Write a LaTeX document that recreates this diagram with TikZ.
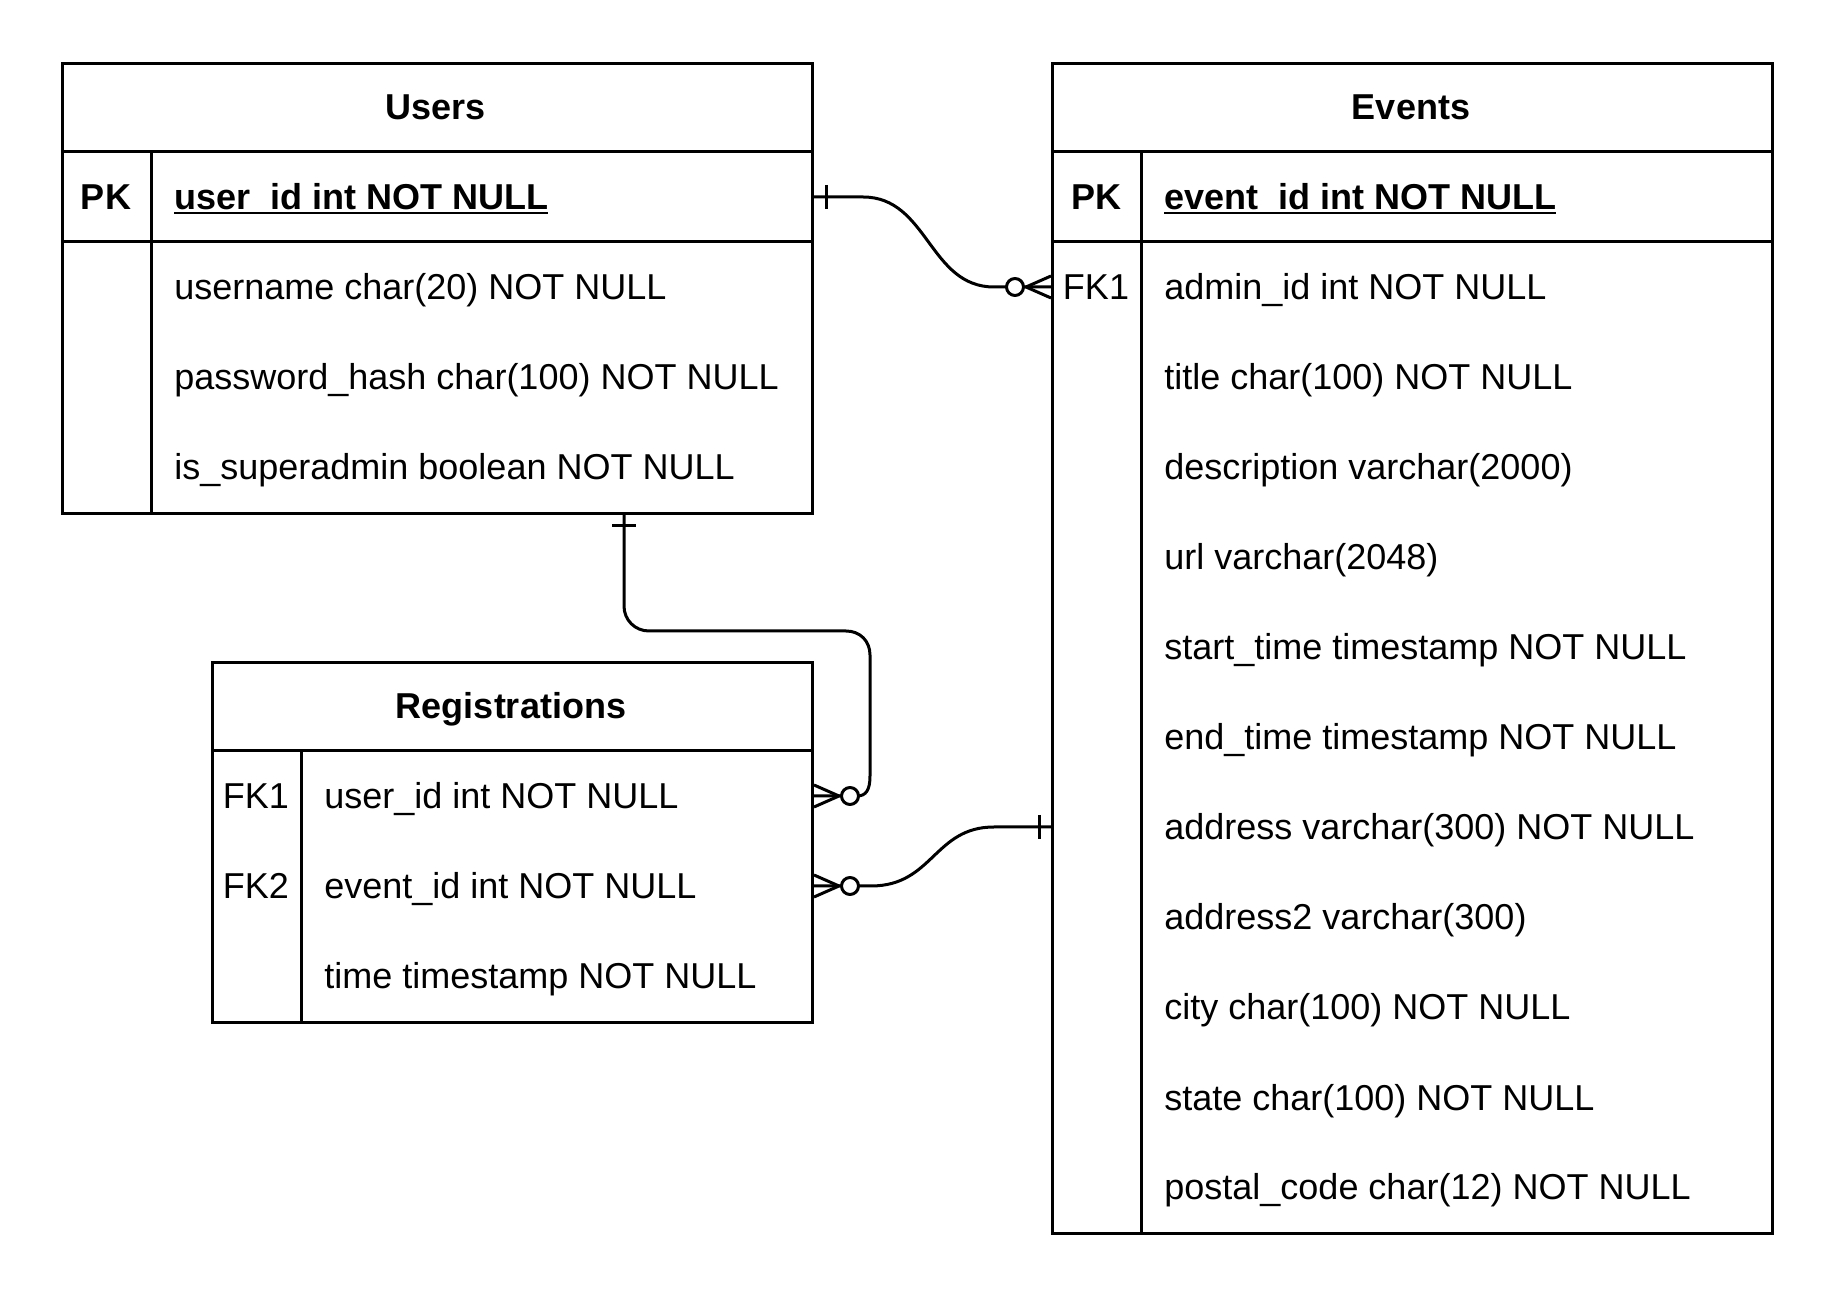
\documentclass[tikz,border=0pt]{standalone}
\usepackage{fontspec}
\setmainfont{Liberation Sans}
\usetikzlibrary{calc}
\newcommand\myul[1]{\setbox0\hbox{#1}\rlap{\rule[-2.2pt]{\wd0}{1.2pt}}\box0}
\tikzset{
  ln/.style={line width=1.5pt, line join=round},
  tbl/.style={draw, line width=1.5pt, anchor=north west, inner sep=0pt},
  txt/.style={anchor=base west, inner sep=0pt, font=\fontsize{18}{21.6}\selectfont},
  keytxt/.style={anchor=base, inner sep=0pt, font=\fontsize{18}{21.6}\selectfont},
  hdrtxt/.style={anchor=base, inner sep=0pt, font=\fontsize{18}{21.6}\selectfont\bfseries},
}
\begin{document}
\begin{tikzpicture}[x=0.5pt,y=-0.5pt]
\fill[white] (0,0) rectangle (1833,1293);
\useasboundingbox (0,0) rectangle (1833,1293);

% ---------- Users ----------
\node[tbl, minimum width=375pt, minimum height=225pt] (users) at (61,62) {};
\draw[ln] (61,152) -- (811,152);
\draw[ln] (61,242) -- (811,242);
\draw[ln] (151,152) -- (151,512);
\node[hdrtxt] (uhead) at (436,120) {Users};
\node[keytxt, font=\fontsize{18}{21.6}\selectfont\bfseries] (upkk) at (106,210) {PK};
\node[txt, font=\fontsize{18}{21.6}\selectfont\bfseries] (upk) at (174,210) {\myul{user\_id int NOT NULL}};
\node[txt] (uname) at (174,300) {username char(20) NOT NULL};
\node[txt] (upass) at (174,390) {password\_hash char(100) NOT NULL};
\node[txt] (usup) at (174,480) {is\_superadmin boolean NOT NULL};

% ---------- Events ----------
\node[tbl, minimum width=360pt, minimum height=585pt] (events) at (1051,62) {};
\draw[ln] (1051,152) -- (1771,152);
\draw[ln] (1051,242) -- (1771,242);
\draw[ln] (1141,152) -- (1141,1232);
\node[hdrtxt] (ehead) at (1411,120) {Events};
\node[keytxt, font=\fontsize{18}{21.6}\selectfont\bfseries] (epkk) at (1096,210) {PK};
\node[keytxt] (efkk) at (1096,300) {FK1};
\node[txt, font=\fontsize{18}{21.6}\selectfont\bfseries] (epk) at (1164,210) {\myul{event\_id int NOT NULL}};
\node[txt] (eadm) at (1164,300) {admin\_id int NOT NULL};
\node[txt] (etitle) at (1164,390) {title char(100) NOT NULL};
\node[txt] (edesc) at (1164,480) {description varchar(2000)};
\node[txt] (eurl) at (1164,570) {url varchar(2048)};
\node[txt] (estart) at (1164,660) {start\_time timestamp NOT NULL};
\node[txt] (eend) at (1164,750) {end\_time timestamp NOT NULL};
\node[txt] (eaddr) at (1164,840) {address varchar(300) NOT NULL};
\node[txt] (eaddr2) at (1164,930) {address2 varchar(300)};
\node[txt] (ecity) at (1164,1020) {city char(100) NOT NULL};
\node[txt] (estate) at (1164,1110) {state char(100) NOT NULL};
\node[txt] (epost) at (1164,1200) {postal\_code char(12) NOT NULL};

% ---------- Registrations ----------
\node[tbl, minimum width=300pt, minimum height=180pt] (regs) at (211,661) {};
\draw[ln] (211,751) -- (811,751);
\draw[ln] (301,751) -- (301,1021);
\node[hdrtxt] (rhead) at (511,719) {Registrations};
\node[keytxt] (rfk1k) at (256,809) {FK1};
\node[keytxt] (rfk2k) at (256,899) {FK2};
\node[txt] (rfk1) at (324,809) {user\_id int NOT NULL};
\node[txt] (rfk2) at (324,899) {event\_id int NOT NULL};
\node[txt] (rtime) at (324,989) {time timestamp NOT NULL};

% ---------- connector anchor points ----------
\path (users.east |- upk.base) ++(0,-13) coordinate (uPKr);
\path (events.west |- eadm.base) ++(0,-13) coordinate (eFKl);
\path (users.south west) ++(563,0) coordinate (uBot);
\path (regs.east |- rfk1.base) ++(0,-13) coordinate (rFK1r);
\path (regs.east |- rfk2.base) ++(0,-13) coordinate (rFK2r);
\path (events.west |- eaddr.base) ++(0,-13) coordinate (eADl);

% Users.user_id -> Events.admin_id
\draw[ln] (uPKr) -- ++(49,0) .. controls +(65,0) and +(-65,0) .. ($(eFKl)+(-57,0)$) -- (eFKl);
\draw[ln] ($(uPKr)+(12,-12)$) -- ++(0,24);
\draw[ln] ($(eFKl)+(0,-11)$) -- ++(-25,11) -- ++(25,11);
\draw[ln, fill=white] ($(eFKl)+(-36,0)$) circle[radius=4.25pt];

% Users -> Registrations.user_id
\draw[ln] (uBot) -- (624,606) .. controls (624,620) and (635,631) .. (649,631)
  -- (846,631) .. controls (860,631) and (870,641) .. (870,655)
  -- (870,776) .. controls (870,790) and (866,796) .. (857,796) -- (rFK1r);
\draw[ln] ($(uBot)+(-12,11)$) -- ++(24,0);
\draw[ln] ($(rFK1r)+(0,-11)$) -- ++(25,11) -- ++(-25,11);
\draw[ln, fill=white] ($(rFK1r)+(36,0)$) circle[radius=4.25pt];

% Events.event_id -> Registrations.event_id
\draw[ln] (rFK2r) -- ++(57,0) .. controls +(62,0) and +(-60,0) .. ($(eADl)+(-57,0)$) -- (eADl);
\draw[ln] ($(eADl)+(-12,-12)$) -- ++(0,24);
\draw[ln] ($(rFK2r)+(0,-11)$) -- ++(25,11) -- ++(-25,11);
\draw[ln, fill=white] ($(rFK2r)+(36,0)$) circle[radius=4.25pt];
\end{tikzpicture}
\end{document}
